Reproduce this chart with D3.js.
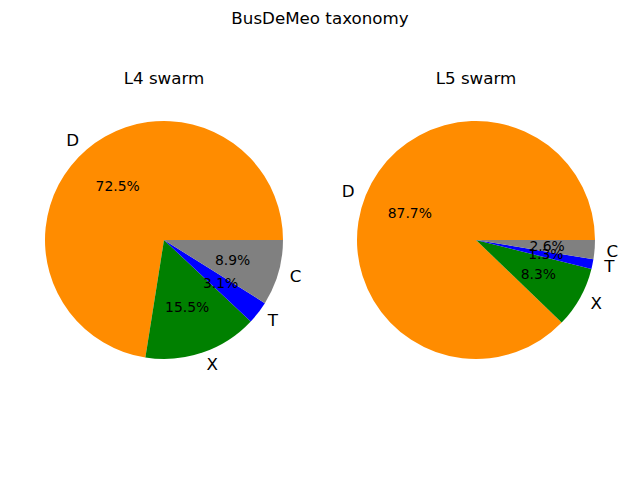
<!DOCTYPE html>
<html>
<head>
<meta charset="utf-8">
<script src="https://cdn.jsdelivr.net/npm/d3@7"></script>
<style>
  body { margin: 0; background: #fff; }
  svg { font-family: "DejaVu Sans", sans-serif; }
</style>
</head>
<body>
<script>
let width = 640;
let height = 480;

// data
const categories = ["D", "X", "T", "C"];
const colors = ["#ff8c00", "#008000", "#0000ff", "#808080"];
const l4Values = [72.5, 15.5, 3.1, 8.9];
const l5Values = [87.7, 8.3, 1.3, 2.6];
const panelTitles = ["L4 swarm", "L5 swarm"];

const panels = [
    { title: panelTitles[0], values: l4Values, cx: 164 },
    { title: panelTitles[1], values: l5Values, cx: 476 }
];

const cy = 240;
const radius = 119;

const svg = d3.select("body").append("svg")
    .attr("width", width)
    .attr("height", height);

svg.append("text")
    .attr("x", width / 2)
    .attr("y", 24)
    .attr("text-anchor", "middle")
    .attr("font-size", "16.7px")
    .text("BusDeMeo taxonomy");

let color = d3.scaleOrdinal().domain(categories).range(colors);

// matplotlib style: start at 3 o'clock, counterclockwise
const pie = d3.pie()
    .sort(null)
    .value(d => d.value)
    .startAngle(Math.PI / 2)
    .endAngle(Math.PI / 2 - 2 * Math.PI);

const arc = d3.arc().innerRadius(0).outerRadius(radius);

panels.forEach(function (p) {
    const g = svg.append("g").attr("transform", `translate(${p.cx},${cy})`);
    const total = d3.sum(p.values);
    const arcs = pie(categories.map((c, i) => ({ name: c, value: p.values[i] })));

    g.selectAll("path")
        .data(arcs)
        .join("path")
        .attr("fill", d => color(d.data.name))
        .attr("d", arc);

    g.append("text")
        .attr("x", 0)
        .attr("y", -cy + 84)
        .attr("text-anchor", "middle")
        .attr("font-size", "16.7px")
        .text(p.title);

    // category labels at 1.1 r
    g.selectAll("text.lab")
        .data(arcs)
        .join("text")
        .attr("class", "lab")
        .each(function (d) {
            const a = (d.startAngle + d.endAngle) / 2;
            const x = Math.sin(a) * radius * 1.1;
            const y = -Math.cos(a) * radius * 1.1;
            d3.select(this)
                .attr("x", x)
                .attr("y", y)
                .attr("dy", "0.35em")
                .attr("text-anchor", x > 0 ? "start" : "end");
        })
        .attr("font-size", "16.7px")
        .text(d => d.data.name);

    // percentages at 0.6 r
    g.selectAll("text.pct")
        .data(arcs)
        .join("text")
        .attr("class", "pct")
        .each(function (d) {
            const a = (d.startAngle + d.endAngle) / 2;
            d3.select(this)
                .attr("x", Math.sin(a) * radius * 0.6)
                .attr("y", -Math.cos(a) * radius * 0.6)
                .attr("dy", "0.35em");
        })
        .attr("text-anchor", "middle")
        .attr("font-size", "13.9px")
        .text(d => d.data.value.toFixed(1) + "%");
});
</script>
</body>
</html>
